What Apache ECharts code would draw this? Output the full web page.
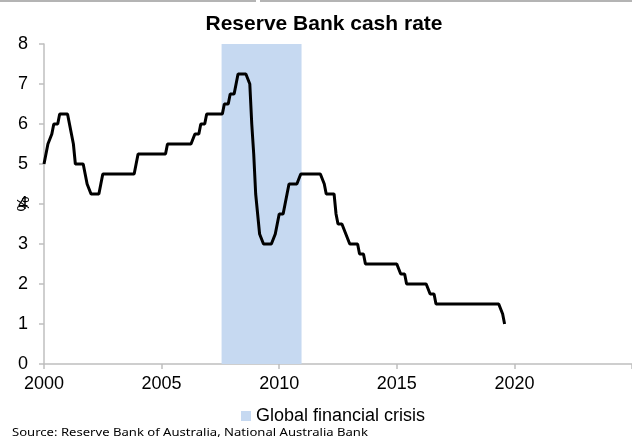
<!DOCTYPE html>
<html>
<head>
<meta charset="utf-8">
<script src="https://cdn.jsdelivr.net/npm/echarts@6/dist/echarts.min.js"></script>
<style>
  html, body { margin: 0; padding: 0; background: #fff; }
  #chart { width: 632px; height: 439px; }
</style>
</head>
<body>
<div id="chart"></div>
<script>
// RBA cash rate, month-end values, Dec 1999 to Jul 2019
const cashRate = [
  5.0,                                                                   // Dec 1999
  5.0, 5.5, 5.5, 5.75, 6.0, 6.0, 6.0, 6.25, 6.25, 6.25, 6.25, 6.25,     // 2000
  6.25, 5.75, 5.5, 5.0, 5.0, 5.0, 5.0, 5.0, 4.75, 4.5, 4.5, 4.25,       // 2001
  4.25, 4.25, 4.25, 4.25, 4.5, 4.75, 4.75, 4.75, 4.75, 4.75, 4.75, 4.75, // 2002
  4.75, 4.75, 4.75, 4.75, 4.75, 4.75, 4.75, 4.75, 4.75, 4.75, 5.0, 5.25, // 2003
  5.25, 5.25, 5.25, 5.25, 5.25, 5.25, 5.25, 5.25, 5.25, 5.25, 5.25, 5.25, // 2004
  5.25, 5.25, 5.5, 5.5, 5.5, 5.5, 5.5, 5.5, 5.5, 5.5, 5.5, 5.5,         // 2005
  5.5, 5.5, 5.5, 5.5, 5.75, 5.75, 5.75, 6.0, 6.0, 6.0, 6.25, 6.25,      // 2006
  6.25, 6.25, 6.25, 6.25, 6.25, 6.25, 6.25, 6.5, 6.5, 6.5, 6.75, 6.75,  // 2007
  6.75, 7.0, 7.25, 7.25, 7.25, 7.25, 7.25, 7.25, 7.0, 6.0, 5.25, 4.25,  // 2008
  4.25, 3.25, 3.25, 3.0, 3.0, 3.0, 3.0, 3.0, 3.0, 3.25, 3.5, 3.75,      // 2009
  3.75, 3.75, 4.0, 4.25, 4.5, 4.5, 4.5, 4.5, 4.5, 4.5, 4.75, 4.75,      // 2010
  4.75, 4.75, 4.75, 4.75, 4.75, 4.75, 4.75, 4.75, 4.75, 4.75, 4.5, 4.25, // 2011
  4.25, 4.25, 4.25, 4.25, 3.75, 3.5, 3.5, 3.5, 3.5, 3.25, 3.25, 3.0,    // 2012
  3.0, 3.0, 3.0, 3.0, 2.75, 2.75, 2.75, 2.5, 2.5, 2.5, 2.5, 2.5,        // 2013
  2.5, 2.5, 2.5, 2.5, 2.5, 2.5, 2.5, 2.5, 2.5, 2.5, 2.5, 2.5,           // 2014
  2.5, 2.25, 2.25, 2.25, 2.0, 2.0, 2.0, 2.0, 2.0, 2.0, 2.0, 2.0,        // 2015
  2.0, 2.0, 2.0, 2.0, 1.75, 1.75, 1.75, 1.5, 1.5, 1.5, 1.5, 1.5,        // 2016
  1.5, 1.5, 1.5, 1.5, 1.5, 1.5, 1.5, 1.5, 1.5, 1.5, 1.5, 1.5,           // 2017
  1.5, 1.5, 1.5, 1.5, 1.5, 1.5, 1.5, 1.5, 1.5, 1.5, 1.5, 1.5,           // 2018
  1.5, 1.5, 1.5, 1.5, 1.5, 1.25, 1.0                                    // 2019
]

// month-end dates as fractional years (Dec 1999 end = 2000.0)
const monthDates = cashRate.map((_, i) => 2000 + i / 12)

// shaded global financial crisis period
const gfcPeriod = [2007.55, 2010.95]

const yearTicks = [2000, 2005, 2010, 2015, 2020]
const rateTicks = [0, 1, 2, 3, 4, 5, 6, 7, 8]

const axisGrey = '#bfbfbf'
const chart = echarts.init(document.getElementById('chart'))

const option = {
  animation: false,
  title: {
    text: 'Reserve Bank cash rate',
    left: 319,
    top: 9,
    textAlign: 'center',
    textStyle: {
      fontFamily: 'Liberation Sans',
      fontSize: 21,
      fontWeight: 'bold',
      color: '#000'
    }
  },
  legend: {
    data: ['Global financial crisis'],
    left: 236,
    top: 402,
    icon: 'rect',
    itemWidth: 10,
    itemHeight: 10,
    textStyle: {
      fontFamily: 'Liberation Sans',
      fontSize: 18,
      color: '#000'
    }
  },
  grid: {
    left: 44,
    right: 0,
    top: 44,
    bottom: 75,
    containLabel: false,
    outerBoundsMode: 'none'
  },
  xAxis: {
    type: 'value',
    min: 2000,
    max: 2025,
    interval: 5,
    splitLine: { show: false },
    axisLine: { lineStyle: { color: axisGrey, width: 1.5 } },
    axisTick: { show: true, length: 5, lineStyle: { color: axisGrey, width: 1.5 } },
    axisLabel: {
      margin: 11,
      fontFamily: 'Liberation Sans',
      fontSize: 18,
      color: '#000',
      formatter: v => (yearTicks.includes(v) ? String(v) : '')
    }
  },
  yAxis: {
    type: 'value',
    min: 0,
    max: 8,
    interval: 1,
    name: '%',
    nameLocation: 'middle',
    nameRotate: 90,
    nameGap: 11,
    nameMoveOverlap: false,
    nameTextStyle: {
      fontFamily: 'Liberation Sans',
      fontSize: 17,
      color: '#000'
    },
    splitLine: { show: false },
    axisLine: { show: true, lineStyle: { color: axisGrey, width: 1.5 } },
    axisTick: { show: true, length: 5, lineStyle: { color: axisGrey, width: 1.5 } },
    axisLabel: {
      margin: 16,
      fontFamily: 'Liberation Sans',
      fontSize: 18,
      color: '#000',
      formatter: v => (rateTicks.includes(v) ? String(v) : '')
    }
  },
  series: [
    {
      name: 'Global financial crisis',
      type: 'line',
      data: [],
      itemStyle: { color: '#c6d9f1' },
      markArea: {
        silent: true,
        itemStyle: { color: '#c6d9f1', opacity: 1 },
        data: [[{ xAxis: gfcPeriod[0] }, { xAxis: gfcPeriod[1] }]]
      }
    },
    {
      name: 'Cash rate',
      type: 'line',
      data: monthDates.map((d, i) => [d, cashRate[i]]),
      showSymbol: false,
      lineStyle: { color: '#000', width: 3 },
      itemStyle: { color: '#000' },
      z: 3
    }
  ],
  graphic: [
    {
      type: 'rect',
      left: 0,
      top: 0,
      shape: { width: 256, height: 2 },
      style: { fill: '#b4b4b4' }
    },
    {
      type: 'rect',
      left: 260,
      top: 0,
      shape: { width: 372, height: 2 },
      style: { fill: '#b4b4b4' }
    },
    {
      type: 'text',
      left: 12,
      top: 427,
      scaleX: 1.19,
      style: {
        text: 'Source: Reserve Bank of Australia, National Australia Bank',
        fontFamily: 'Noto Sans',
        fontSize: 11,
        fill: '#000'
      }
    }
  ]
}

chart.setOption(option)
</script>
</body>
</html>
